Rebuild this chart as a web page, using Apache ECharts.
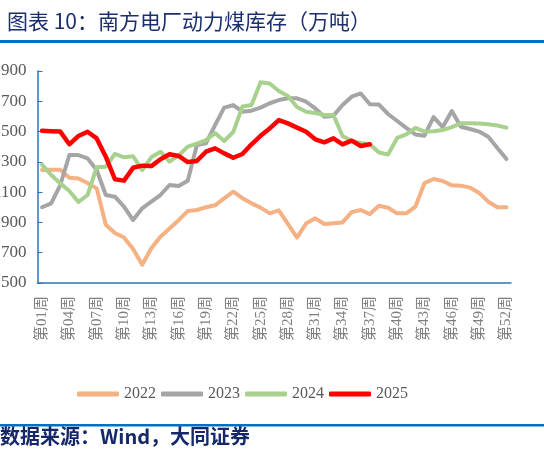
<!DOCTYPE html>
<html>
<head>
<meta charset="utf-8">
<script src="https://cdn.jsdelivr.net/npm/echarts@6/dist/echarts.min.js"></script>
<style>
html,body{margin:0;padding:0;background:#fff;}
#c{width:544px;height:460px;}
</style>
</head>
<body>
<div id="c"></div>
<script>
var weeks = ['第01周','第02周','第03周','第04周','第05周','第06周','第07周','第08周','第09周','第10周',
'第11周','第12周','第13周','第14周','第15周','第16周','第17周','第18周','第19周','第20周',
'第21周','第22周','第23周','第24周','第25周','第26周','第27周','第28周','第29周','第30周',
'第31周','第32周','第33周','第34周','第35周','第36周','第37周','第38周','第39周','第40周',
'第41周','第42周','第43周','第44周','第45周','第46周','第47周','第48周','第49周','第50周',
'第51周','第52周'];

var s2022 = [1246,1248,1248,1195,1190,1160,1125,885,830,800,725,620,730,805,860,915,975,982,1000,1013,
1059,1103,1060,1026,998,960,980,890,800,893,927,890,894,900,968,982,955,1010,997,960,
960,1004,1160,1187,1174,1145,1143,1130,1095,1037,1000,1000];

var s2023 = [1000,1026,1147,1345,1345,1323,1246,1081,1070,1004,916,993,1037,1081,1147,1140,1175,1411,1422,1543,
1658,1675,1631,1638,1658,1687,1708,1720,1720,1697,1653,1598,1605,1675,1730,1752,1680,1678,1616,1570,
1524,1481,1473,1596,1530,1636,1532,1517,1500,1466,1392,1319];

var s2024 = [1282,1213,1158,1108,1035,1081,1265,1268,1352,1330,1337,1246,1330,1367,1301,1343,1400,1421,1444,1490,
1438,1497,1665,1675,1825,1817,1768,1735,1662,1631,1623,1609,1609,1471,1438,1425,1416,1362,1349,1458,
1481,1524,1500,1502,1510,1530,1555,1555,1554,1549,1540,1526];

var s2025 = [1505,1502,1500,1416,1471,1499,1455,1334,1185,1176,1261,1275,1272,1317,1350,1339,1299,1306,1367,1389,
1356,1327,1352,1416,1472,1521,1576,1554,1526,1499,1449,1429,1455,1416,1440,1405,1416];

var seriesNames = ['2022','2023','2024','2025'];
var seriesColors = ['#f4b183','#a5a5a5','#a9d18e','#ff0000'];
var seriesData = [s2022, s2023, s2024, s2025];

var titleText = '图表 10：南方电厂动力煤库存（万吨）';
var sourceText = '数据来源：Wind，大同证券';

var serif = "'Liberation Serif','Noto Sans CJK SC',serif";
var cjk = "'Noto Sans CJK SC',sans-serif";
var axisBlue = '#2e75b6';

var chart = echarts.init(document.getElementById('c'), null, {renderer:'canvas'});
chart.setOption({
  animation: false,
  title: {
    text: titleText,
    left: 2, top: 6,
    textStyle: {fontFamily: cjk, fontSize: 21, fontWeight: 'normal', color: '#1b2f6e'}
  },
  graphic: [
    {type:'rect', left:0, top:40, shape:{width:544, height:3}, style:{fill:'#0070c0'}},
    {type:'rect', left:0, top:424, shape:{width:544, height:2.5}, style:{fill:'#0070c0'}},
    {type:'text', left:0, top:426, style:{text: sourceText, font: "bold 20px 'Noto Sans CJK SC'", fill:'#14286a'}}
  ],
  legend: {
    data: seriesNames,
    left: 72, top: 381,
    itemWidth: 42, itemHeight: 5, itemGap: 5,
    icon: 'roundRect',
    textStyle: {fontFamily: serif, fontSize: 16, color: '#595959'}
  },
  grid: {left: 37.5, right: 33, top: 71, bottom: 177, containLabel: false, outerBoundsMode: 'none'},
  xAxis: {
    type: 'category',
    data: weeks,
    boundaryGap: true,
    axisLine: {lineStyle: {color: axisBlue, width: 1.5}},
    axisTick: {inside: true, length: 5, interval: 0, lineStyle: {color: axisBlue}},
    axisLabel: {interval: 2, rotate: 90, margin: 13, fontFamily: serif, fontSize: 15, color: '#7f7f7f'},
    splitLine: {show: false}
  },
  yAxis: {
    type: 'value',
    min: 500, max: 1900, interval: 200,
    axisLine: {show: true, lineStyle: {color: axisBlue, width: 1.5}},
    axisTick: {show: true, inside: true, length: 5, lineStyle: {color: axisBlue}},
    axisLabel: {margin: 11, fontFamily: serif, fontSize: 17, color: '#595959',
      formatter: function(v){ return String(v); }},
    splitLine: {show: false}
  },
  series: seriesNames.map(function(n, i){
    return {
      name: n, type: 'line', data: seriesData[i],
      symbol: 'none', smooth: false,
      lineStyle: {color: seriesColors[i], width: i === 3 ? 4.5 : 4, cap: 'round', join: 'round'},
      itemStyle: {color: seriesColors[i]}
    };
  })
});
</script>
</body>
</html>
